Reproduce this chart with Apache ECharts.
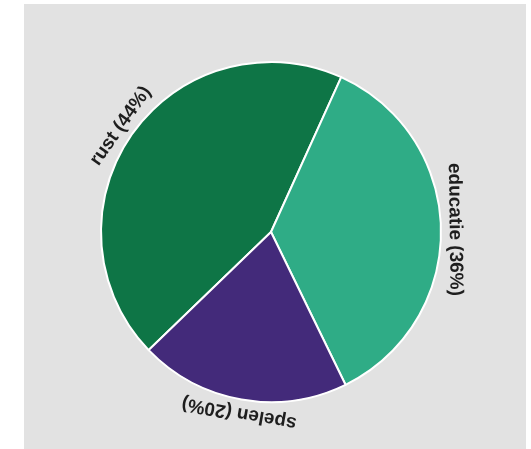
<!DOCTYPE html>
<html><head><meta charset="utf-8">
<script src="https://cdn.jsdelivr.net/npm/echarts@6/dist/echarts.min.js"></script>
<style>
html,body{margin:0;padding:0;background:#ffffff;}
#chart{position:absolute;left:24px;top:4px;width:502px;height:445px;background:#e2e2e2;}
</style></head><body><div id="chart"></div>
<script>
const categories = ['rust', 'educatie', 'spelen'];
const values = [44, 36, 20];
const colors = ['#0e7546', '#2fac86', '#432a7a'];

const startAngle = 224;
const total = values.reduce((a, b) => a + b, 0);
let acc = 0;
const pieData = categories.map((name, i) => ({ name: name, value: values[i], itemStyle: { color: colors[i] } }));
const labelData = categories.map((name, i) => {
  const mid = (90 - startAngle) + (acc + values[i] / 2) / total * 360;
  acc += values[i];
  return { name: name, value: values[i], label: { rotate: -mid } };
});

const chart = echarts.init(document.getElementById('chart'));
chart.setOption({
  animation: false,
  backgroundColor: 'transparent',
  series: [
    {
      type: 'pie',
      center: [247, 228],
      radius: [0, 170],
      startAngle: startAngle,
      clockwise: true,
      silent: true,
      itemStyle: { borderColor: '#ffffff', borderWidth: 2 },
      label: { show: false },
      labelLine: { show: false },
      data: pieData
    },
    {
      type: 'pie',
      center: [247, 228],
      radius: [173, 189],
      startAngle: startAngle,
      clockwise: true,
      silent: true,
      itemStyle: { color: 'transparent', borderWidth: 0 },
      label: {
        show: true,
        position: 'inside',
        formatter: p => p.name + ' (' + p.value + '%)',
        fontFamily: 'Liberation Sans, Arial, sans-serif',
        fontWeight: 'bold',
        fontSize: 19,
        color: '#1e1e1e'
      },
      labelLine: { show: false },
      emphasis: { disabled: true },
      data: labelData
    }
  ]
});
</script></body></html>
